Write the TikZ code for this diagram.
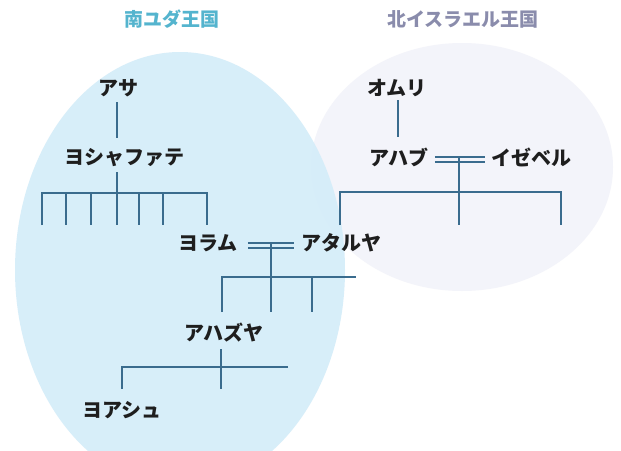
\documentclass[tikz,border=0pt]{standalone}
\usepackage{fontspec}
\newfontfamily\jp{Noto Sans CJK JP}
\definecolor{linec}{RGB}{58,108,142}
\definecolor{judahfill}{RGB}{213,237,249}
\definecolor{israelfill}{RGB}{243,244,250}
\definecolor{judahtxt}{RGB}{84,180,206}
\definecolor{israeltxt}{RGB}{138,140,172}
\begin{document}
\begin{tikzpicture}[x=1pt,y=-1pt,
  person/.style={font=\jp\bfseries\fontsize{20}{20}\selectfont, text={rgb,255:red,30;green,30;blue,30},
    inner sep=0pt, minimum height=20pt},
  kingdom/.style={font=\jp\bfseries\fontsize{19}{19}\selectfont, inner sep=0pt},
  line/.style={draw=linec, line width=2.9pt, line cap=butt, line join=miter},
  dbl/.style={draw=linec, line width=1.8pt}]
\useasboundingbox (0,0) rectangle (621,450);
\fill[white] (0,0) rectangle (621,450);
\begin{scope}
\clip (0,0) rectangle (621,450);
\fill[israelfill] (462,167) ellipse [x radius=151, y radius=124];
\fill[judahfill, fill opacity=0.94] (180,270) ellipse [x radius=165, y radius=218];
\end{scope}

% titles
\node[kingdom, text=judahtxt] (judah) at (172,19) {南ユダ王国};
\node[kingdom, text=israeltxt] (israel) at (463,19) {北イスラエル王国};

% Judah
\node[person] (asa) at (118,88) {アサ};
\node[person] (josh) at (124,158) {ヨシャファテ};
\node[person] (joram) at (208,243) {ヨラム};
\node[person] (athaliah) at (341,243) {アタルヤ};
\node[person] (ahaziah) at (224,333) {アハズヤ};
\node[person] (joash) at (122,410) {ヨアシュ};

% Israel
\node[person] (omri) at (397,88) {オムリ};
\node[person] (ahab) at (399,157) {アハブ};
\node[person] (jezebel) at (531,157) {イゼベル};

% coordinates for sibling bars
\coordinate (jbarL) at (42,193);
\coordinate (jbarR) at (207,193);
\coordinate (jstemTop) at (117,172);
\coordinate (jstemBot) at (117,225);
\coordinate (rbarL) at (340,192);
\coordinate (rbarR) at (561,192);
\coordinate (rstemBot) at (459,225);
\coordinate (mbarL) at (222,277);
\coordinate (mbarR) at (356,277);
\coordinate (mstemBot) at (271,312);
\coordinate (abarL) at (122,367);
\coordinate (abarR) at (288,367);
\coordinate (astemBot) at (221,389);

% Asa -> Jehoshaphat
\draw[line] ([xshift=-1pt,yshift=-4pt]asa.south) -- ([xshift=-1pt,yshift=10pt]asa.south |- josh.north);
% Jehoshaphat children
\draw[line] (jstemTop) -- (jstemBot);
\draw[line] (jbarL |- jstemBot) -- (jbarL) -- (jbarR) -- (jbarR |- jstemBot);
\foreach \xx in {66,91,139,163} \draw[line] (\xx,193) -- (\xx,225);

% Joram = Athaliah
\draw[dbl] ([xshift=10pt,yshift=-5pt]joram.east) -- ([xshift=-7pt,yshift=-5pt]athaliah.west);
\draw[dbl] ([xshift=10pt]joram.east) -- ([xshift=-7pt]athaliah.west);
\draw[line] (mstemBot |- athaliah.west) -- (mstemBot);
\draw[line] (mbarL |- mstemBot) -- (mbarL) -- (mbarR);
\draw[line] (312,277) -- (312,312);

% Ahaziah
\draw[line] ([yshift=-6pt]ahaziah.south -| astemBot) -- (astemBot);
\draw[line] (abarR) -- (abarL) -- (abarL |- astemBot);

% Omri -> Ahab
\draw[line] ([xshift=1pt,yshift=-2pt]omri.south) -- ([xshift=1pt,yshift=10pt]omri.south |- ahab.north);
% Ahab = Jezebel
\draw[dbl] ([xshift=6pt,yshift=-5pt]ahab.east) -- ([xshift=-6pt,yshift=-5pt]jezebel.west);
\draw[dbl] ([xshift=6pt]ahab.east) -- ([xshift=-6pt]jezebel.west);
\draw[line] (rstemBot |- ahab.east) -- (rstemBot);
\draw[line] (rbarL |- rstemBot) -- (rbarL) -- (rbarR) -- (rbarR |- rstemBot);
\end{tikzpicture}
\end{document}
